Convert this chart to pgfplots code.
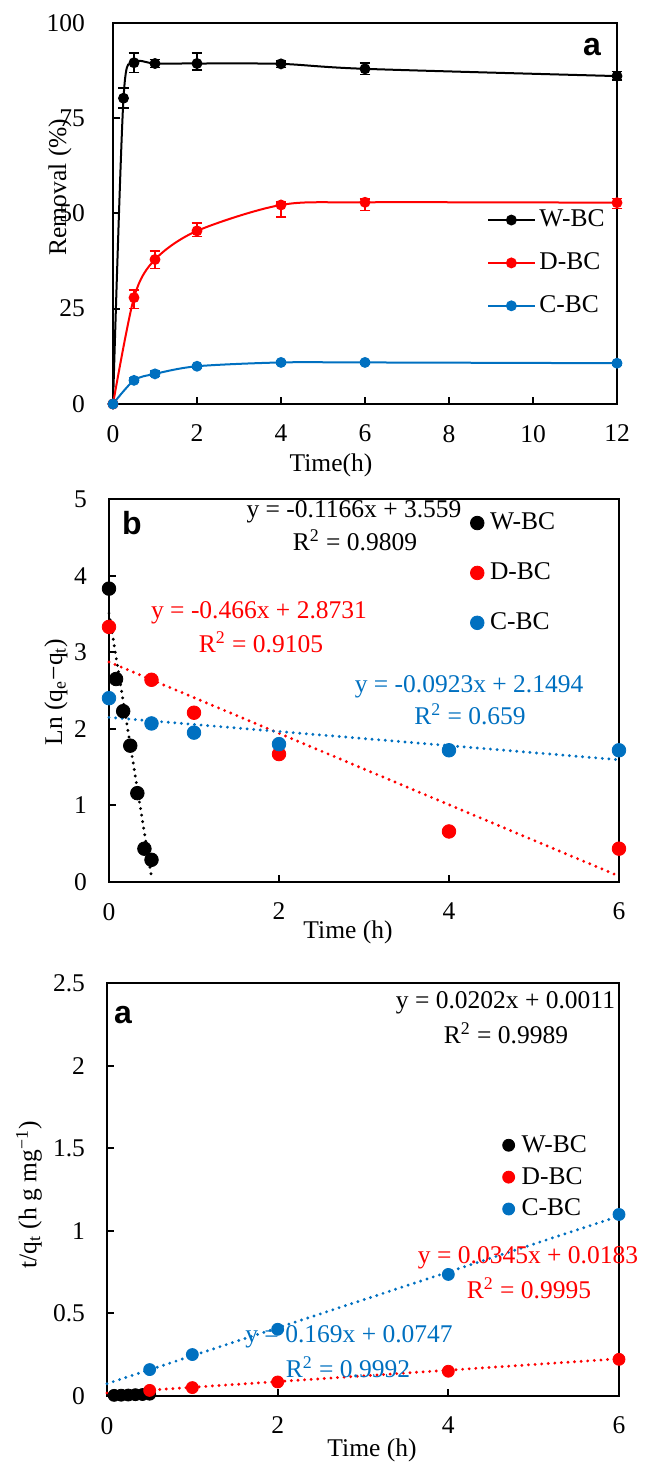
\documentclass[border=0pt]{standalone}
\usepackage{pgfplots}
\pgfplotsset{compat=1.18}
\usepackage{fontspec}
\setmainfont{Liberation Serif}
\newfontfamily\arial{Liberation Sans}
\definecolor{xblue}{RGB}{0,112,192}
\definecolor{xred}{RGB}{255,0,0}

\pgfplotstableread{
x y ep em
0 0 0 0
0.25 80.2 2.6 2.6
0.5 89.5 2.6 2.6
1 89.3 1.0 1.0
2 89.3 2.8 1.7
4 89.2 0.8 0.9
6 87.9 1.6 1.5
12 86.0 1.2 1.0
}\wbcA
\pgfplotstableread{
x y ep em
0 0 0 0
0.5 27.9 2.0 2.9
1 37.9 2.3 2.4
2 45.4 2.1 1.5
4 52.2 0.7 3.1
6 52.9 0.8 2.2
12 52.8 1.1 1.5
}\dbcA
\pgfplotstableread{
x y ep em
0 0 0 0
0.5 6.2 0.6 0.6
1 7.9 0.7 0.7
2 9.9 0.4 0.4
4 10.9 0.5 0.5
6 10.9 0.5 0.5
12 10.7 0.5 0.5
}\cbcA

\pgfplotsset{
  every axis/.append style={font=\fontsize{12.75}{15}\selectfont},
  base/.style={
    scale only axis, anchor=south west,
    axis line style={line width=1pt},
    tick align=inside, xtick pos=bottom, ytick pos=left,
    major tick length=3.5pt, tick style={line width=1pt, black},
    /pgf/number format/assume math mode=true,
    xticklabel style={yshift=-7pt},
    clip=false,
    legend cell align=left,
  },
  fitline/.style={dash pattern=on 0pt off 3.3pt, line cap=round, line width=1.6pt, forget plot},
  ebar/.style={error bars/.cd, y dir=both, y explicit,
    error bar style={line width=0.8pt, solid},
    error mark options={rotate=90, mark size=2.7pt, line width=0.8pt}},
}

\begin{document}
\begin{tikzpicture}[font=\fontsize{12.75}{15}\selectfont]
\useasboundingbox (0,0) rectangle (323pt,-731pt);

% ---------- panel 1 ----------
\begin{axis}[base, at={(56.5pt,-202pt)}, width=252pt, height=190.65pt,
  xmin=0, xmax=12, ymin=0, ymax=100,
  xtick={0,2,...,12}, ytick={0,25,...,100},
  yticklabel style={xshift=-10.5pt},
  legend style={at={(axis description cs:0.742,0.370)}, anchor=west, draw=none, fill=none,
    inner sep=0pt, row sep=11.5pt, column sep=2pt, nodes={inner sep=0pt}},
  legend image code/.code={\draw[mark repeat=2,mark phase=2,#1] plot coordinates {(0pt,0pt) (11.5pt,0pt) (23pt,0pt)};},
]
\addplot[black, line width=1pt, smooth, mark=*, mark size=2.2pt, ebar]
  table[x=x, y=y, y error plus=ep, y error minus=em] {\wbcA};
\addlegendentry{W-BC}
\addplot[xred, line width=1pt, smooth, mark=*, mark size=2.2pt, ebar]
  table[x=x, y=y, y error plus=ep, y error minus=em] {\dbcA};
\addlegendentry{D-BC}
\addplot[xblue, line width=1pt, smooth, mark=*, mark size=2.2pt, ebar]
  table[x=x, y=y, y error plus=ep, y error minus=em] {\cbcA};
\addlegendentry{C-BC}
\end{axis}
\node[font=\arial\bfseries\fontsize{16}{18}\selectfont] at (296pt,-23.5pt) {a};
\node[rotate=90] at (30pt,-93.5pt) {Removal (\%)};
\node at (165.5pt,-232.5pt) {Time(h)};

% ---------- panel 2 ----------
\begin{axis}[base, at={(54.5pt,-441pt)}, width=255pt, height=191.5pt,
  xmin=0, xmax=6, ymin=0, ymax=5,
  xtick={0,2,4,6}, ytick={0,1,...,5},
  yticklabel style={xshift=-7.5pt},
  legend style={at={(axis description cs:0.708,0.807)}, anchor=west, draw=none, fill=none,
    inner sep=0pt, row sep=15pt, column sep=3pt, nodes={inner sep=0pt}},
  legend image code/.code={\draw[#1] plot coordinates {(0pt,0pt)};},
]
\addplot[only marks, black, mark=*, mark size=3.4pt] coordinates {
  (0,3.83) (0.0833,2.65) (0.1667,2.23) (0.25,1.78) (0.3333,1.16) (0.4167,0.435) (0.5,0.29)};
\addlegendentry{W-BC}
\addplot[only marks, xred, mark=*, mark size=3.4pt] coordinates {
  (0,3.33) (0.5,2.64) (1,2.21) (2,1.67) (4,0.66) (6,0.435)};
\addlegendentry{D-BC}
\addplot[only marks, xblue, mark=*, mark size=3.4pt] coordinates {
  (0,2.40) (0.5,2.07) (1,1.95) (2,1.80) (4,1.72) (6,1.72)};
\addlegendentry{C-BC}
\addplot[fitline, black] coordinates {(0,3.51) (0.5,0.07)};
\addplot[fitline, xred] coordinates {(0,2.8731) (6,0.0771)};
\addplot[fitline, xblue] coordinates {(0,2.1494) (6,1.5956)};
\end{axis}
\node[font=\arial\bfseries\fontsize{16}{18}\selectfont] at (66pt,-261.5pt) {b};
\node[rotate=90] at (28pt,-346pt) {Ln (q\textsubscript{e}−q\textsubscript{t})};
\node at (174pt,-466pt) {Time (h)};
\node at (177pt,-256pt) {y = -0.1166x + 3.559};
\node at (177.5pt,-270pt) {R\textsuperscript{2} = 0.9809};
\node[text=xred] at (129.5pt,-306.5pt) {y = -0.466x + 2.8731};
\node[text=xred] at (130.5pt,-321pt) {R\textsuperscript{2} = 0.9105};
\node[text=xblue] at (234.5pt,-343.5pt) {y = -0.0923x + 2.1494};
\node[text=xblue] at (235pt,-357pt) {R\textsuperscript{2} = 0.659};

% ---------- panel 3 ----------
\begin{axis}[base, at={(53.5pt,-698pt)}, width=256pt, height=206.5pt,
  xmin=0, xmax=6, ymin=0, ymax=2.5,
  xtick={0,2,4,6}, ytick={0,0.5,...,2.5},
  yticklabel style={xshift=-7.5pt},
  legend style={at={(axis description cs:0.772,0.530)}, anchor=west, draw=none, fill=none,
    inner sep=0pt, row sep=6pt, column sep=3.5pt, nodes={inner sep=0pt}},
  legend image code/.code={\draw[#1] plot coordinates {(0pt,0pt)};},
]
\addplot[fitline, xred] coordinates {(0,0.0183) (6,0.2253)};
\addplot[fitline, xblue] coordinates {(0,0.0747) (6,1.0887)};
\addplot[only marks, black, mark=*, mark size=3pt] coordinates {
  (0.0833,0.004) (0.1667,0.005) (0.25,0.006) (0.3333,0.008) (0.4167,0.009) (0.5,0.011)};
\addlegendentry{W-BC}
\addplot[only marks, xred, mark=*, mark size=3pt] coordinates {
  (0.5,0.034) (1,0.051) (2,0.085) (4,0.150) (6,0.222)};
\addlegendentry{D-BC}
\addplot[only marks, xblue, mark=*, mark size=3pt] coordinates {
  (0.5,0.160) (1,0.251) (2,0.404) (4,0.736) (6,1.099)};
\addlegendentry{C-BC}
\end{axis}
\node[font=\arial\bfseries\fontsize{16}{18}\selectfont] at (61.5pt,-507.5pt) {a};
\node[rotate=90] at (14.5pt,-597.5pt) {t/q\textsubscript{t} (h g mg\textsuperscript{−1})};
\node at (186pt,-725pt) {Time (h)};
\node at (252.75pt,-501.5pt) {y = 0.0202x + 0.0011};
\node at (253pt,-516.5pt) {R\textsuperscript{2} = 0.9989};
\node[text=xred] at (264pt,-629pt) {y = 0.0345x + 0.0183};
\node[text=xred] at (264.5pt,-644pt) {R\textsuperscript{2} = 0.9995};
\node[text=xblue] at (174.5pt,-668.5pt) {y = 0.169x + 0.0747};
\node[text=xblue] at (174pt,-683.5pt) {R\textsuperscript{2} = 0.9992};
\end{tikzpicture}
\end{document}
